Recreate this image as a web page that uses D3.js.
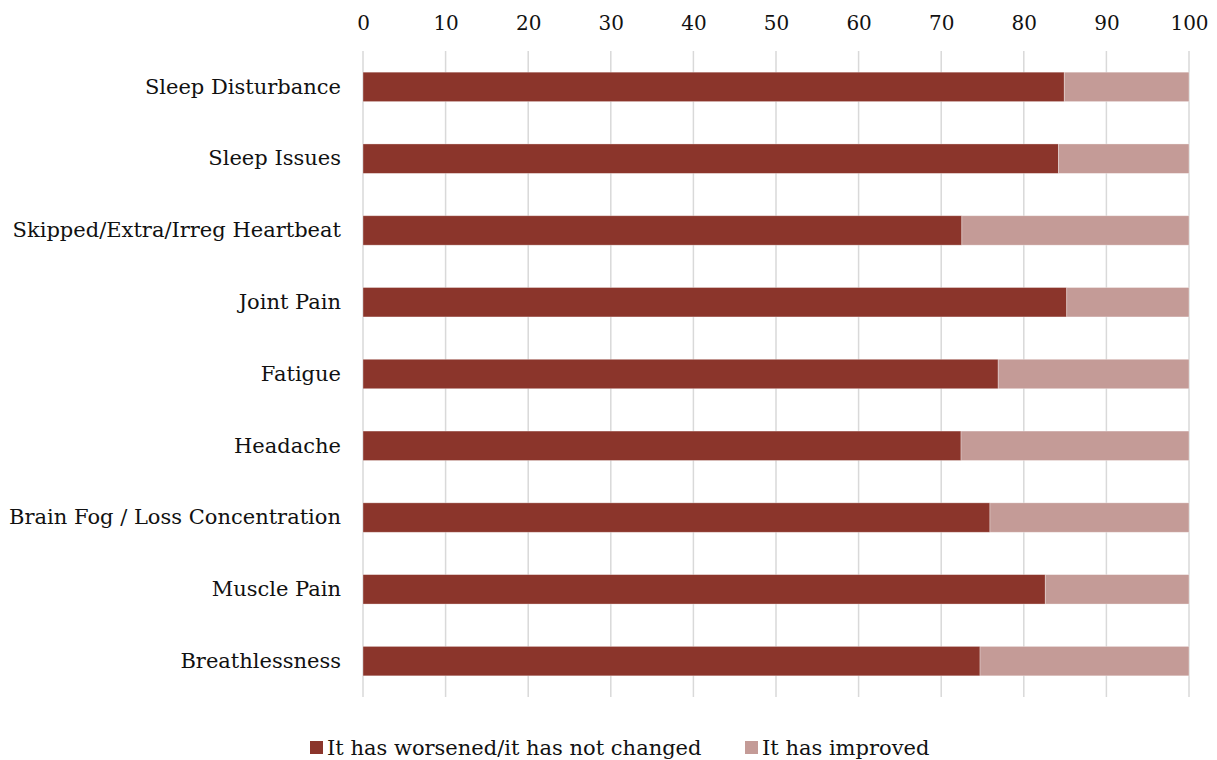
<!DOCTYPE html>
<html>
<head>
<meta charset="utf-8">
<script src="https://cdn.jsdelivr.net/npm/d3@7"></script>
<style>
  body { margin: 0; background: #fff; }
  svg text { font-family: 'DejaVu Serif', serif; fill: #111; }
</style>
</head>
<body>
<div id="chart"></div>
<script>
const categories = [
  'Sleep Disturbance',
  'Sleep Issues',
  'Skipped/Extra/Irreg Heartbeat',
  'Joint Pain',
  'Fatigue',
  'Headache',
  'Brain Fog / Loss Concentration',
  'Muscle Pain',
  'Breathlessness',
];
const worsened = [84.9, 84.2, 72.5, 85.2, 76.9, 72.4, 75.9, 82.6, 74.7];
const improved = worsened.map(v => 100 - v);
const xTicks = [0, 10, 20, 30, 40, 50, 60, 70, 80, 90, 100];
const seriesNames = ['It has worsened/it has not changed', 'It has improved'];

const width = 1217;
const height = 760;
const margin = { top: 51, right: 28, bottom: 63, left: 363 };
const colors = ['#8b352b', '#c49b97'];

const svg = d3.select('#chart').append('svg')
  .attr('width', width)
  .attr('height', height);

const x = d3.scaleLinear()
  .domain([0, 100])
  .range([margin.left, width - margin.right]);
const y = d3.scaleBand()
  .domain(categories)
  .range([margin.top, height - margin.bottom])
  .paddingInner(0.59)
  .paddingOuter(0.295);

// gridlines
svg.append('g')
  .selectAll('line')
  .data(xTicks)
  .join('line')
  .attr('x1', d => x(d))
  .attr('x2', d => x(d))
  .attr('y1', margin.top)
  .attr('y2', height - margin.bottom)
  .attr('stroke', '#d9d9d9')
  .attr('stroke-width', 1.5);

// top axis labels
const xAxis = svg.append('g')
  .attr('transform', `translate(0, ${margin.top - 20})`)
  .call(d3.axisTop(x).tickValues(xTicks).tickSize(0).tickPadding(0));
xAxis.select('.domain').remove();
xAxis.selectAll('text')
  .attr('font-size', 20)
  .attr('font-family', "'DejaVu Serif', serif")
  .attr('fill', '#111')
  .attr('dy', '0.32em')
  .attr('y', -7);

// stacked bars
const stack = d3.stack().keys([0, 1])(
  categories.map((c, i) => ({ 0: worsened[i], 1: improved[i], cat: c }))
);
svg.append('g')
  .selectAll('g')
  .data(stack)
  .join('g')
  .attr('fill', (_, i) => colors[i])
  .selectAll('rect')
  .data(d => d)
  .join('rect')
  .attr('x', d => x(d[0]))
  .attr('width', d => x(d[1]) - x(d[0]))
  .attr('y', d => y(d.data.cat))
  .attr('height', y.bandwidth())
  .attr('stroke', '#fff')
  .attr('stroke-opacity', 0.4)
  .attr('stroke-width', 0.8);

// category labels
const yAxis = svg.append('g')
  .attr('transform', `translate(${margin.left}, 0)`)
  .call(d3.axisLeft(y).tickSize(0).tickPadding(22));
yAxis.select('.domain').remove();
yAxis.selectAll('text')
  .attr('font-size', 21)
  .attr('font-family', "'DejaVu Serif', serif")
  .attr('fill', '#111');

// legend
const legend = svg.append('g').attr('transform', `translate(0, ${height - 5})`);
const legendX = [310, 745];
seriesNames.forEach((name, i) => {
  const g = legend.append('g').attr('transform', `translate(${legendX[i]}, 0)`);
  g.append('rect')
    .attr('x', 0).attr('y', -14)
    .attr('width', 13).attr('height', 13)
    .attr('fill', colors[i]);
  g.append('text')
    .attr('x', 17)
    .attr('y', 0)
    .attr('font-size', 21)
    .text(name);
});
</script>
</body>
</html>
